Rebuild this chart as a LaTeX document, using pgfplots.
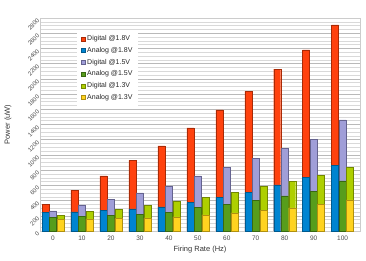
\documentclass[border=0pt]{standalone}
\usepackage{fontspec}
\setmainfont{Liberation Sans}
\usepackage{pgfplots}
\usepackage{pgfplotstable}
\pgfplotsset{compat=1.18}
\definecolor{cDA}{HTML}{FF420E}
\definecolor{cDAe}{HTML}{A82A06}
\definecolor{cAA}{HTML}{0084D1}
\definecolor{cAAe}{HTML}{005A8E}
\definecolor{cDB}{HTML}{A09ED8}
\definecolor{cDBe}{HTML}{65638F}
\definecolor{cAB}{HTML}{579D1C}
\definecolor{cABe}{HTML}{386812}
\definecolor{cDC}{HTML}{AECF00}
\definecolor{cDCe}{HTML}{728800}
\definecolor{cAC}{HTML}{FFD320}
\definecolor{cACe}{HTML}{B09010}
\definecolor{txt}{HTML}{4A4A4A}
\pgfplotstableread{
rate d18 a18 d15 a15 d13 a13
0 350 245 265 180 205 150
10 536 252 344 194 256 160
20 726 269 418 207 286 164
30 927 292 502 221 335 173
40 1120 318 594 243 392 186
50 1357 374 726 309 440 213
60 1593 440 835 352 510 239
70 1834 506 957 401 585 273
80 2127 607 1089 463 651 305
90 2382 703 1203 519 733 352
100 2711 865 1462 660 835 410
}\datatab
\begin{document}
\begin{tikzpicture}
\begin{axis}[
  scale only axis,
  width=320pt, height=213pt,
  xmin=-4.5, xmax=106,
  ymin=0, ymax=2800,
  ybar,
  bar width=7pt,
  xtick={0,10,...,100},
  ytick={0,200,...,2800},
  minor y tick num=3,
  ymajorgrids, yminorgrids,
  major grid style={gray!55, line width=0.5pt},
  minor grid style={gray!30, line width=0.5pt},
  major tick length=0pt, minor tick length=0pt,
  axis line style={gray!40},
  /pgf/number format/assume math mode=true,
  /pgf/number format/1000 sep={},
  tick label style={font=\fontsize{6.5}{7}\selectfont, text=txt},
  yticklabel style={rotate=45, anchor=east, inner sep=0.8pt, font=\fontsize{6}{6.5}\selectfont, xshift=-1.5pt},
  xticklabel style={yshift=-1pt},
  xlabel={Firing Rate (Hz)},
  ylabel={Power (uW)},
  label style={font=\fontsize{7.5}{8}\selectfont, text=black!80},
  xlabel style={at={(axis description cs:0.5,-0.085)}, anchor=center},
  ylabel style={at={(axis description cs:-0.1,0.5)}, anchor=center, rotate=0},
  legend style={at={(0.116,0.945)}, anchor=north west, draw=none, fill=white,
    font=\fontsize{7}{8}\selectfont, text=black!85, row sep=1.2pt, inner sep=3.5pt},
  legend cell align=left,
  legend image code/.code={\fill[#1] (0pt,-2pt) rectangle (4pt,2pt);},
]
\coordinate (bl) at (rel axis cs:0,0);
\coordinate (tr) at (rel axis cs:1,1);
\addplot[fill=cDA, draw=cDAe, bar shift=-7.5pt] table[x=rate,y=d18]{\datatab};
\addplot[fill=cAA, draw=cAAe, bar shift=-7.5pt] table[x=rate,y=a18]{\datatab};
\addplot[fill=cDB, draw=cDBe, bar shift=0pt] table[x=rate,y=d15]{\datatab};
\addplot[fill=cAB, draw=cABe, bar shift=0pt] table[x=rate,y=a15]{\datatab};
\addplot[fill=cDC, draw=cDCe, bar shift=7.5pt] table[x=rate,y=d13]{\datatab};
\addplot[fill=cAC, draw=cACe, bar shift=7.5pt] table[x=rate,y=a13]{\datatab};
\legend{Digital @1.8V, Analog @1.8V, Digital @1.5V, Analog @1.5V, Digital @1.3V, Analog @1.3V}
\end{axis}
\pgfresetboundingbox
\path[use as bounding box] ([shift={(-40pt,-29pt)}]bl) rectangle ([shift={(6pt,18pt)}]tr);
\end{tikzpicture}
\end{document}
